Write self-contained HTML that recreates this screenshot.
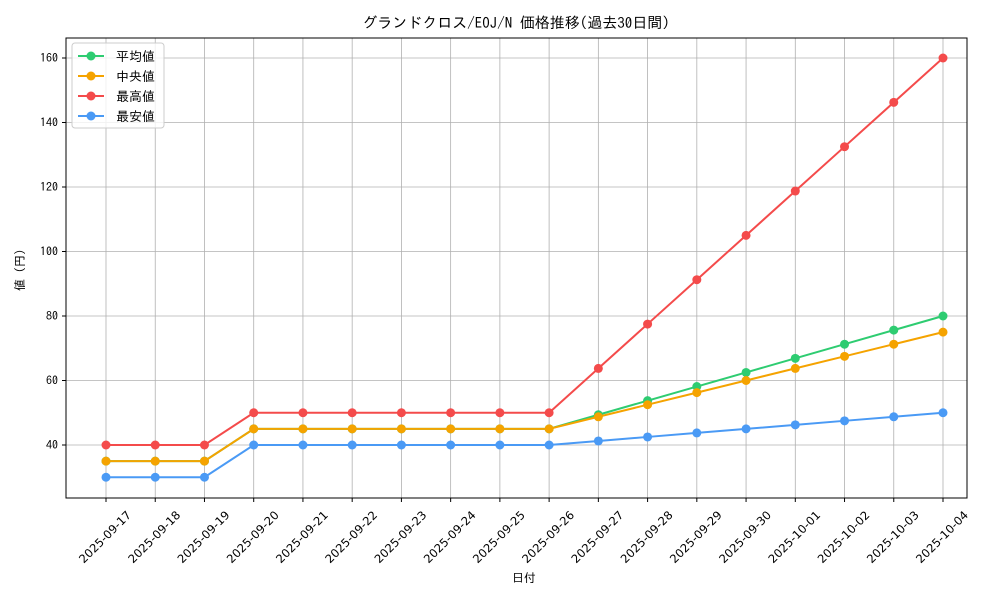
<!DOCTYPE html>
<html><head><meta charset="utf-8"><style>
html,body{margin:0;padding:0;background:#fff;}
svg{display:block;font-family:"IPAGothic","Noto Sans CJK JP",sans-serif;}
</style></head><body>
<svg width="1000" height="600" viewBox="0 0 1000 600">
<rect width="1000" height="600" fill="#fff"/>
<g id="grid" stroke="#b0b0b0" stroke-width="0.8"></g>
<rect x="66" y="38" width="901" height="460" fill="none" stroke="#000" stroke-width="1"/>
<g id="ticks" font-size="12" fill="#000"></g>
<text x="516" y="28" font-size="15" text-anchor="middle">グランドクロス/EOJ/N 価格推移(過去30日間)</text>
<text x="524" y="582" font-size="12" text-anchor="middle">日付</text>
<text transform="translate(24,270) rotate(-90)" font-size="12" text-anchor="middle">値 (円)</text>
<g id="series"></g>
<g>
<rect x="72" y="43" width="92" height="85" rx="3" fill="#fff" fill-opacity="0.8" stroke="#ccc"/>
<g font-size="13">
<line x1="78" y1="56" x2="104" y2="56" stroke="#2ecc71" stroke-width="2"/><circle cx="91" cy="56" r="4.5" fill="#2ecc71"/><text x="116" y="61">平均値</text>
<line x1="78" y1="76" x2="104" y2="76" stroke="#f5a300" stroke-width="2"/><circle cx="91" cy="76" r="4.5" fill="#f5a300"/><text x="116" y="81">中央値</text>
<line x1="78" y1="96" x2="104" y2="96" stroke="#f44b4b" stroke-width="2"/><circle cx="91" cy="96" r="4.5" fill="#f44b4b"/><text x="116" y="101">最高値</text>
<line x1="78" y1="116" x2="104" y2="116" stroke="#4a9af5" stroke-width="2"/><circle cx="91" cy="116" r="4.5" fill="#4a9af5"/><text x="116" y="121">最安値</text>
</g></g>
<script>
const ns="http://www.w3.org/2000/svg";
const X=i=>106+i*(943-106)/17, Y=v=>445-(v-40)*3.225;
const dates=["2025-09-17","2025-09-18","2025-09-19","2025-09-20","2025-09-21","2025-09-22","2025-09-23","2025-09-24","2025-09-25","2025-09-26","2025-09-27","2025-09-28","2025-09-29","2025-09-30","2025-10-01","2025-10-02","2025-10-03","2025-10-04"];
const g=document.getElementById("grid"),t=document.getElementById("ticks"),s=document.getElementById("series");
function el(p,n,a,txt){const e=document.createElementNS(ns,n);for(const k in a)e.setAttribute(k,a[k]);if(txt)e.textContent=txt;p.appendChild(e);return e;}
dates.forEach((d,i)=>{const x=X(i);el(g,"line",{x1:x,x2:x,y1:38,y2:498});el(t,"line",{x1:x,x2:x,y1:498,y2:502,stroke:"#000"});
el(t,"text",{x:0,y:4,"text-anchor":"middle","font-family":"DejaVu Sans, sans-serif","font-size":11.5,textLength:68,lengthAdjust:"spacingAndGlyphs",transform:`translate(${x-1},${537}) rotate(-45)`},d);});
for(let v=40;v<=160;v+=20){const y=Y(v);el(g,"line",{x1:66,x2:967,y1:y,y2:y});el(t,"line",{x1:62,x2:66,y1:y,y2:y,stroke:"#000"});el(t,"text",{x:58,y:y+4,"text-anchor":"end"},String(v));}
function lin(pre,a,b,n){const r=pre.slice();for(let k=1;k<=n;k++)r.push(a+(b-a)*k/n);return r;}
const flat=(a,b)=>[a,a,a,b,b,b,b,b,b,b];
const data=[["#f44b4b",lin(flat(40,50),50,160,8)],["#2ecc71",lin(flat(35,45),45,80,8)],["#f5a300",lin(flat(35,45),45,75,8)],["#4a9af5",lin(flat(30,40),40,50,8)]];
data.forEach(([c,v])=>{el(s,"polyline",{points:v.map((y,i)=>X(i)+","+Y(y)).join(" "),fill:"none",stroke:c,"stroke-width":2});
v.forEach((y,i)=>el(s,"circle",{cx:X(i),cy:Y(y),r:4.5,fill:c}));});
</script>
</svg>
</body></html>
